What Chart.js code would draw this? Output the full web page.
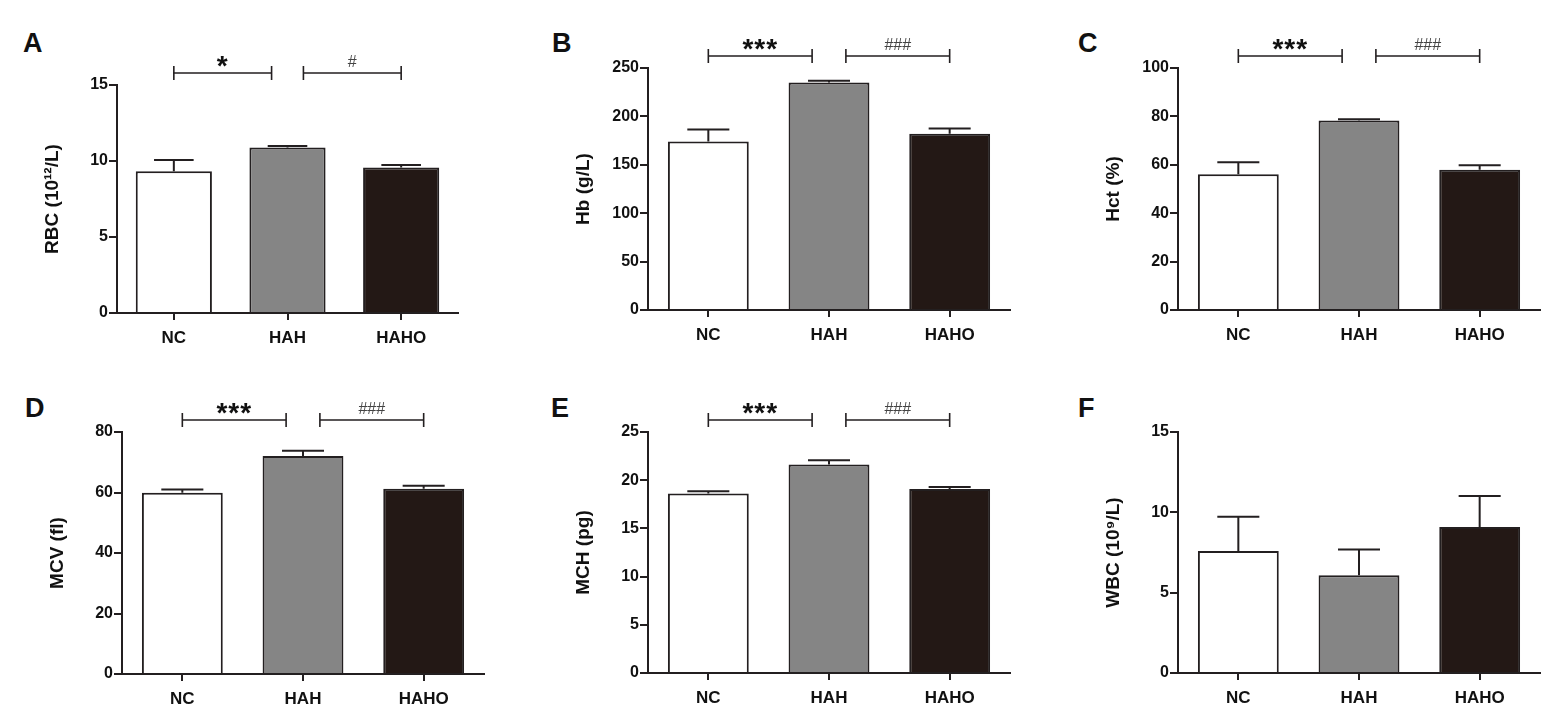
<!DOCTYPE html>
<html>
<head>
<meta charset="utf-8">
<script src="https://cdn.jsdelivr.net/npm/chart.js@4.4.1/dist/chart.umd.min.js"></script>
<style>
body { margin: 0; background: #fff; width: 1562px; height: 725px; overflow: hidden; position: relative; }
canvas { position: absolute; }
.tag { position: absolute; font: bold 27px "Liberation Sans", Arial, sans-serif; line-height: 1; color: #111; }
</style>
</head>
<body>
<script>
// group names on the x axis
const groups = ['NC', 'HAH', 'HAHO'];

// means and upper error
const rbc_mean = [9.33, 10.88, 9.57];
const rbc_err = [0.74, 0.11, 0.17];
const hb_mean = [174, 235, 182];
const hb_err = [12.4, 1.8, 5.5];
const hct_mean = [56.1, 78.3, 58.0];
const hct_err = [5.0, 0.5, 1.8];
const mcv_mean = [59.9, 72.1, 61.2];
const mcv_err = [1.1, 1.7, 1.0];
const mch_mean = [18.63, 21.64, 19.08];
const mch_err = [0.22, 0.42, 0.21];
const wbc_mean = [7.6, 6.09, 9.08];
const wbc_err = [2.12, 1.6, 1.93];

// y axis ranges: [max, step]
const rbc_ticks = [15, 5];
const hb_ticks = [250, 50];
const hct_ticks = [100, 20];
const mcv_ticks = [80, 20];
const mch_ticks = [25, 5];
const wbc_ticks = [15, 5];

// significance marks (NC vs HAH, HAH vs HAHO)
const rbc_sig = ['*', '#'];
const main_sig = ['***', '###'];
const wbc_sig = [];

const bar_colors = ['#ffffff', '#858585', '#231815'];
const ink = '#231f20';
const FONT = '"Liberation Sans", Arial, sans-serif';

// plot area of each panel in page pixels
const panels = [
  { tag: 'A', tx: 23, ty: 30, L: 116.5, T: 85, B: 313.3, R: 457, title: 'RBC (10¹²/L)', mean: rbc_mean, err: rbc_err, ticks: rbc_ticks, sig: rbc_sig },
  { tag: 'B', tx: 552, ty: 30, L: 648.3, T: 68.3, B: 310.7, R: 1010, title: 'Hb (g/L)', mean: hb_mean, err: hb_err, ticks: hb_ticks, sig: main_sig },
  { tag: 'C', tx: 1078, ty: 30, L: 1178, T: 68.3, B: 310.7, R: 1540, title: 'Hct (%)', mean: hct_mean, err: hct_err, ticks: hct_ticks, sig: main_sig },
  { tag: 'D', tx: 25, ty: 395, L: 121.7, T: 431.7, B: 673.3, R: 483.5, title: 'MCV (fl)', mean: mcv_mean, err: mcv_err, ticks: mcv_ticks, sig: main_sig },
  { tag: 'E', tx: 551, ty: 395, L: 648.3, T: 431.7, B: 672.3, R: 1010, title: 'MCH (pg)', mean: mch_mean, err: mch_err, ticks: mch_ticks, sig: main_sig },
  { tag: 'F', tx: 1078, ty: 395, L: 1178, T: 431.7, B: 672.3, R: 1540, title: 'WBC (10⁹/L)', mean: wbc_mean, err: wbc_err, ticks: wbc_ticks, sig: wbc_sig }
];

const LEFT = 80, TOP = 50, BOTTOM = 50, RIGHT = 4;

const errorBars = {
  id: 'errorBars',
  afterDatasetsDraw(chart) {
    const ctx = chart.ctx;
    const y = chart.scales.y;
    const ds = chart.data.datasets[0];
    const meta = chart.getDatasetMeta(0);
    ctx.save();
    ctx.strokeStyle = ink;
    ctx.lineWidth = 2;
    meta.data.forEach((bar, i) => {
      const base = y.getPixelForValue(ds.data[i]);
      const top = y.getPixelForValue(ds.data[i] + ds.err[i]);
      const half = bar.width * 0.26;
      ctx.beginPath();
      ctx.moveTo(bar.x, base);
      ctx.lineTo(bar.x, top);
      ctx.moveTo(bar.x - half, top);
      ctx.lineTo(bar.x + half, top);
      ctx.stroke();
    });
    ctx.restore();
  }
};

function makeBrackets(labels) {
  return {
    id: 'brackets',
    afterDraw(chart) {
      if (!labels.length) return;
      const ctx = chart.ctx;
      const x = chart.scales.x;
      const yb = chart.chartArea.top - 12;
      const spans = [[0, 0.86], [1.14, 2]];
      ctx.save();
      ctx.strokeStyle = ink;
      ctx.lineWidth = 1.6;
      spans.forEach((s, i) => {
        const x1 = x.getPixelForValue(s[0]);
        const x2 = x.getPixelForValue(s[1]);
        ctx.beginPath();
        ctx.moveTo(x1, yb); ctx.lineTo(x2, yb);
        ctx.moveTo(x1, yb - 7); ctx.lineTo(x1, yb + 7);
        ctx.moveTo(x2, yb - 7); ctx.lineTo(x2, yb + 7);
        ctx.stroke();
        const mid = (x1 + x2) / 2;
        const txt = labels[i];
        ctx.textAlign = 'center';
        ctx.textBaseline = 'alphabetic';
        if (txt.startsWith('*')) {
          ctx.fillStyle = '#111';
          ctx.font = 'bold 28px ' + FONT;
          ctx.letterSpacing = '1px';
          ctx.fillText(txt, mid, yb + 2);
        } else {
          ctx.fillStyle = '#444';
          ctx.font = '16px ' + FONT;
          ctx.letterSpacing = '0px';
          ctx.fillText(txt, mid, yb - 6);
        }
      });
      ctx.restore();
    }
  };
}

panels.forEach(p => {
  const tag = document.createElement('div');
  tag.className = 'tag';
  tag.textContent = p.tag;
  tag.style.left = p.tx + 'px';
  tag.style.top = p.ty + 'px';
  document.body.appendChild(tag);

  const cv = document.createElement('canvas');
  const w = Math.round(p.R - p.L + LEFT + RIGHT);
  const h = Math.round(p.B - p.T + TOP + BOTTOM);
  cv.width = w; cv.height = h;
  cv.style.width = w + 'px'; cv.style.height = h + 'px';
  cv.style.left = (p.L - LEFT) + 'px';
  cv.style.top = (p.T - TOP) + 'px';
  document.body.appendChild(cv);

  new Chart(cv, {
    type: 'bar',
    data: {
      labels: groups,
      datasets: [{
        data: p.mean,
        err: p.err,
        backgroundColor: bar_colors,
        borderColor: ink,
        borderWidth: 2,
        barPercentage: 0.67,
        categoryPercentage: 1.0
      }]
    },
    options: {
      responsive: false,
      animation: false,
      layout: { padding: { top: TOP, right: RIGHT, left: 0, bottom: 0 } },
      plugins: { legend: { display: false }, tooltip: { enabled: false } },
      scales: {
        x: {
          afterFit(s) { s.height = BOTTOM; },
          grid: { offset: false, drawOnChartArea: false, drawTicks: true, tickLength: 7, color: ink, lineWidth: 2 },
          border: { display: true, color: ink, width: 2 },
          ticks: { color: '#111', padding: 8, font: { family: FONT, size: 17, weight: 'bold' } }
        },
        y: {
          min: 0,
          max: p.ticks[0],
          afterFit(s) { s.width = LEFT; },
          grid: { drawOnChartArea: false, drawTicks: true, tickLength: 8, color: ink, lineWidth: 2 },
          border: { display: true, color: ink, width: 2 },
          ticks: { stepSize: p.ticks[1], color: '#111', padding: 1, font: { family: FONT, size: 16, weight: 'bold' } },
          title: { display: true, text: p.title, color: '#111', padding: { top: 4, bottom: 0 }, font: { family: FONT, size: 19, weight: 'bold' } }
        }
      }
    },
    plugins: [errorBars, makeBrackets(p.sig)]
  });
});
</script>
</body>
</html>
